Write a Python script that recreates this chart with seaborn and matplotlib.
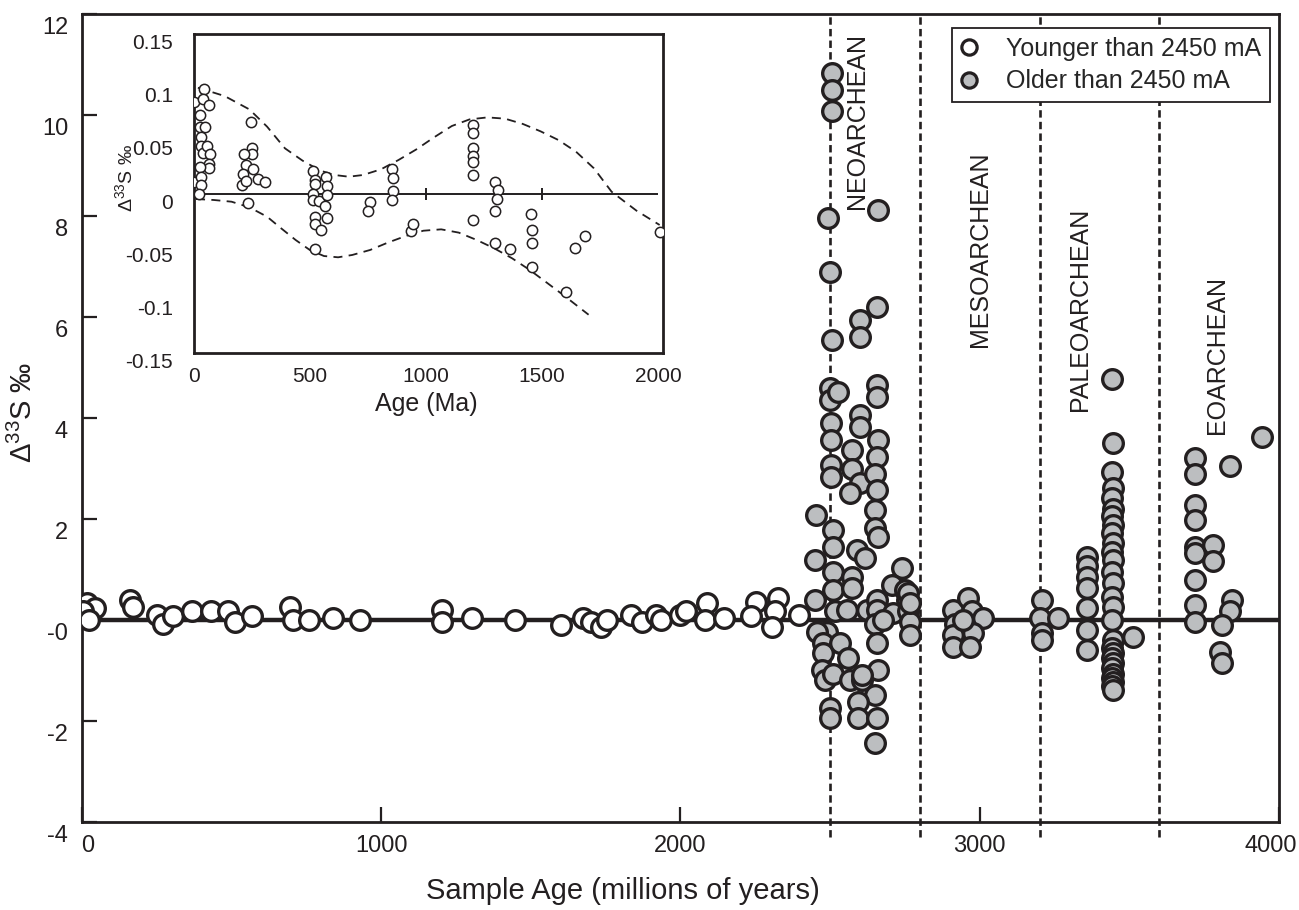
import seaborn as sns
import matplotlib.pyplot as plt
from matplotlib.lines import Line2D
from matplotlib.transforms import ScaledTranslation


# Samples younger than 2450 Ma (white circles)
young_age = [16, 43, 5, 24, 161, 170, 251, 270, 305, 369, 432, 487, 513, 568,
             695, 704, 757, 839, 930, 1202, 1202, 1302, 1446, 1600, 1673, 1700,
             1736, 1754, 1836, 1872, 1918, 1935, 1999, 2017, 2089, 2081, 2144,
             2252, 2235, 2325, 2315, 2306, 2397]
young_d33 = [0.33, 0.23, 0.17, 0.0, 0.40, 0.26, 0.10, -0.07, 0.07, 0.17, 0.17, 0.17, -0.03, 0.07,
             0.26, 0.0, 0.0, 0.03, 0.0, 0.20, -0.03, 0.03, 0.0, -0.10, 0.03, -0.03,
             -0.13, 0.0, 0.10, -0.03, 0.10, 0.0, 0.10, 0.17, 0.33, 0.0, 0.03,
             0.36, 0.07, 0.43, 0.17, -0.13, 0.10]

# Samples older than 2450 Ma (grey circles)
old_age = [
    # neoarchean
    2505, 2505, 2505, 2493, 2661, 2500, 2656, 2600, 2600, 2505,
    2500, 2500, 2527, 2656, 2656, 2600, 2600, 2502, 2502, 2502,
    2502, 2661, 2572, 2572, 2656, 2600, 2650, 2566, 2656, 2650,
    2650, 2661, 2453, 2511, 2511, 2511, 2511, 2450, 2450, 2589,
    2617, 2572, 2572, 2739, 2706, 2750, 2516, 2622, 2656, 2656,
    2711, 2756, 2761, 2767, 2767, 2650, 2678, 2656, 2488, 2455,
    2477, 2477, 2472, 2483, 2511, 2533, 2561, 2566, 2605, 2661,
    2650, 2594, 2500, 2500, 2594, 2656, 2650, 2555, 2605, 2761, 2767,
    # mesoarchean
    2912, 2962, 2973, 3012, 2917, 2912, 2912, 2979, 2968, 2945,
    # paleoarchean
    3207, 3201, 3263, 3207, 3207,
    3357, 3357, 3357, 3357, 3357, 3357, 3357,
    3441, 3446, 3441, 3446, 3441, 3446, 3441, 3446, 3441, 3446,
    3441, 3446, 3441, 3446, 3441, 3446, 3441, 3446, 3441, 3446,
    3441, 3446, 3441, 3446, 3441, 3446, 3441, 3446, 3513,
    # eoarchean
    3719, 3719, 3719, 3719, 3719, 3719, 3719, 3719, 3719,
    3781, 3781, 3837, 3942, 3842, 3837, 3808, 3802, 3808,
]
old_d33 = [
    10.83, 10.50, 10.07, 7.96, 8.12, 6.89, 6.20, 5.94, 5.61, 5.54,
    4.59, 4.36, 4.52, 4.65, 4.42, 4.06, 3.83, 3.91, 3.56, 3.06,
    2.84, 3.56, 3.37, 3.00, 3.23, 2.71, 2.90, 2.51, 2.57, 2.18,
    1.82, 1.65, 2.08, 1.78, 1.45, 0.96, 0.59, 1.19, 0.40, 1.39,
    1.22, 0.86, 0.63, 1.02, 0.69, 0.60, 0.17, 0.20, 0.40, 0.20,
    0.13, 0.40, 0.17, -0.03, -0.30, -0.07, 0.0, -0.46, -0.23, -0.23,
    -0.46, -0.66, -0.99, -1.19, -1.06, -0.46, -0.76, -1.19, -1.19, -0.99,
    -1.49, -1.62, -1.75, -1.95, -1.95, -1.95, -2.44, 0.20, -1.09, 0.53, 0.33,
    0.20, 0.43, 0.17, 0.03, -0.07, -0.30, -0.53, -0.26, -0.53, 0.0,
    0.40, 0.03, 0.03, -0.26, -0.40,
    1.25, 1.06, 0.86, 0.63, 0.23, -0.20, -0.59,
    4.77, 3.50, 2.94, 2.61, 2.41, 2.20, 2.05, 1.88, 1.72, 1.52,
    1.35, 1.19, 0.96, 0.73, 0.46, 0.26, 0.0, -0.40, -0.55, -0.66,
    -0.76, -0.86, -0.96, -1.06, -1.14, -1.22, -1.30, -1.39, -0.33,
    3.20, 2.90, 2.28, 1.98, 1.45, 1.32, 0.79, 0.30, -0.03,
    1.49, 1.16, 3.04, 3.63, 0.40, 0.17, -0.10, -0.63, -0.86,
]

eon_bounds = [2500, 2800, 3200, 3600]
eon_names = ["NEOARCHEAN", "MESOARCHEAN", "PALEOARCHEAN", "EOARCHEAN"]

# Inset: samples younger than 2 Ga
inset_age = [2, 2, 24, 24, 47, 32, 32, 37, 55, 70, 67, 67, 24, 32, 32, 21, 44, 37, 67,
             246, 251, 251, 216, 223, 254, 213, 208, 226, 277, 308, 231,
             514, 522, 522, 514, 514, 537, 522, 522, 548, 522, 568, 575, 572, 563, 575,
             759, 751, 854, 857, 857, 854, 935, 942,
             1203, 1203, 1203, 1203, 1203, 1203, 1203,
             1297, 1310, 1307, 1297, 1297, 1363,
             1452, 1455, 1455, 1455, 1603, 1640, 1684, 2006]
inset_d33 = [0.086, 0.011, 0.074, 0.063, 0.063, 0.053, 0.045, 0.038, 0.045, 0.037,
             0.028, 0.024, 0.025, 0.016, 0.008, 0.0, 0.098, 0.089, 0.083,
             0.067, 0.043, 0.037, 0.037, 0.027, 0.023, 0.018, 0.008, 0.012, 0.014, 0.011, -0.009,
             0.021, 0.013, 0.009, 0.0, -0.006, -0.007, -0.022, -0.029, -0.034, -0.052,
             0.016, 0.007, -0.001, -0.012, -0.023,
             -0.008, -0.016, 0.023, 0.015, 0.002, -0.006, -0.035, -0.029,
             0.064, 0.057, 0.043, 0.035, 0.030, 0.017, -0.025,
             0.011, 0.003, -0.005, -0.016, -0.047, -0.052,
             -0.019, -0.034, -0.047, -0.069, -0.093, -0.051, -0.040, -0.036]

# envelope curves (dashed)
upper_age = [17, 132, 239, 315, 392, 468, 545, 606, 667, 728, 805, 881, 958, 1034,
             1111, 1187, 1264, 1340, 1417, 1493, 1570, 1646, 1723, 1799, 1906, 2006]
upper_d33 = [0.0995, 0.0917, 0.0791, 0.0629, 0.0425, 0.0309, 0.0215, 0.0174, 0.0158,
             0.0174, 0.0227, 0.0315, 0.0415, 0.0528, 0.0635, 0.0697, 0.0716, 0.0704,
             0.0654, 0.0585, 0.0503, 0.0393, 0.0237, 0.0017, -0.0161, -0.0296]
lower_age = [9, 86, 162, 239, 315, 376, 438, 499, 560, 621, 682, 759, 835, 912, 988,
             1065, 1141, 1218, 1294, 1371, 1447, 1524, 1600, 1700]
lower_d33 = [-0.0052, -0.0061, -0.0077, -0.013, -0.0218, -0.0328, -0.0437, -0.0531,
             -0.0588, -0.060, -0.0578, -0.0531, -0.0462, -0.040, -0.035, -0.0337,
             -0.0368, -0.0437, -0.0516, -0.061, -0.072, -0.0845, -0.097, -0.114]

ink = "#231f20"
grey = "#bcbec0"

sns.set_style("ticks")
plt.rcParams["font.family"] = ["Liberation Sans", "DejaVu Sans"]
plt.rcParams["mathtext.fontset"] = "custom"
plt.rcParams["mathtext.rm"] = "Liberation Sans"
plt.rcParams["mathtext.it"] = "Liberation Sans:italic"


def shift(labels, dx_pt, dy_pt):
    for lab in labels:
        lab.set_transform(lab.get_transform() +
                          ScaledTranslation(dx_pt / 72, dy_pt / 72, fig.dpi_scale_trans))


fig = plt.figure(figsize=(12.99, 9.10), dpi=100)
ax = fig.add_axes([0.0631, 0.0967, 0.9215, 0.8879])

# zero line and era boundaries
ax.axhline(0, color=ink, lw=3.2, zorder=1)
for b in eon_bounds:
    ax.axvline(b, ymin=-0.018, ymax=1, color=ink, lw=1.9, ls=(0, (2.8, 1.6)),
               clip_on=False, zorder=1)

sns.scatterplot(x=young_age, y=young_d33, ax=ax, s=200, color="white",
                edgecolor=ink, linewidth=2.4, zorder=3, legend=False)
sns.scatterplot(x=old_age, y=old_d33, ax=ax, s=200, color=grey,
                edgecolor=ink, linewidth=2.4, zorder=4, legend=False)

# era names
label_pos = [(2590, 9.88), (3001, 7.35), (3335, 6.15), (3793, 5.25)]
for name, (lx, ly) in zip(eon_names, label_pos):
    ax.text(lx, ly, name, rotation=90, ha="center", va="center", fontsize=18, color=ink)

ax.set_xlim(0, 4000)
ax.set_ylim(-4, 12)
ax.set_xticks([0, 1000, 2000, 3000, 4000])
ax.set_yticks(list(range(-4, 13, 2)))
ax.set_yticklabels(["-4", "-2", "-0", "2", "4", "6", "8", "10", "12"])
ax.tick_params(direction="in", length=11, width=1.6, labelsize=17, colors=ink)
ax.tick_params(axis="y", pad=10)
ax.tick_params(axis="x", pad=9)
shift(ax.get_yticklabels(), 0, -8)
xl = ax.get_xticklabels()
shift(xl[:1], 4, 0)
shift(xl[-1:], -6, 0)
for sp in ax.spines.values():
    sp.set_linewidth(2)
    sp.set_color(ink)

ax.set_xlabel("Sample Age (millions of years)", fontsize=21, color=ink)
ax.xaxis.set_label_coords(0.452, -0.068)
ax.set_ylabel("Δ$^{33}$S ‰", fontsize=21, color=ink)
ax.yaxis.set_label_coords(-0.037, 0.507)

handles = [
    Line2D([], [], ls="none", marker="o", ms=11, mew=2.3, mfc="white", mec=ink,
           label="Younger than 2450 mA"),
    Line2D([], [], ls="none", marker="o", ms=11, mew=2.3, mfc=grey, mec=ink,
           label="Older than 2450 mA"),
]
leg = ax.legend(handles=handles, loc="upper right", bbox_to_anchor=(0.9925, 0.9827),
                fontsize=18, frameon=True, fancybox=False, framealpha=1,
                edgecolor=ink, borderpad=0.35, handlelength=0.65, handletextpad=1.15,
                labelspacing=0.35, borderaxespad=0)
leg.get_frame().set_linewidth(1.3)
leg.set_zorder(6)

# inset
ax2 = fig.add_axes([0.1493, 0.6121, 0.3610, 0.3505])
ax2.plot(upper_age, upper_d33, color=ink, lw=1.3, ls=(0, (5, 3.5)))
ax2.plot(lower_age, lower_d33, color=ink, lw=1.3, ls=(0, (5, 3.5)))
ax2.hlines(0, 0, 2000, color=ink, lw=1.4)
ax2.plot([1000, 1500], [0, 0], ls="none", marker="|", ms=9, mew=1.4, color=ink)
sns.scatterplot(x=inset_age, y=inset_d33, ax=ax2, s=55, color="white",
                edgecolor=ink, linewidth=1.1, zorder=3, legend=False)
ax2.set_xlim(0, 2020)
ax2.set_ylim(-0.15, 0.15)
ax2.set_xticks([0, 500, 1000, 1500, 2000])
ax2.set_yticks([-0.15, -0.1, -0.05, 0, 0.05, 0.1, 0.15])
ax2.set_yticklabels(["-0.15", "-0.1", "-0.05", "0", "0.05", "0.1", "0.15"])
ax2.tick_params(length=0, labelsize=15, colors=ink)
ax2.tick_params(axis="y", pad=15)
ax2.tick_params(axis="x", pad=10)
shift(ax2.get_yticklabels(), 0, -5.5)
for sp in ax2.spines.values():
    sp.set_linewidth(2)
    sp.set_color(ink)
ax2.set_xlabel("Age (Ma)", fontsize=18, color=ink)
ax2.xaxis.set_label_coords(0.495, -0.122)
ax2.set_ylabel("Δ$^{33}$S ‰", fontsize=14, color=ink)
ax2.yaxis.set_label_coords(-0.124, 0.549)

fig.savefig("out.png", dpi=100)
